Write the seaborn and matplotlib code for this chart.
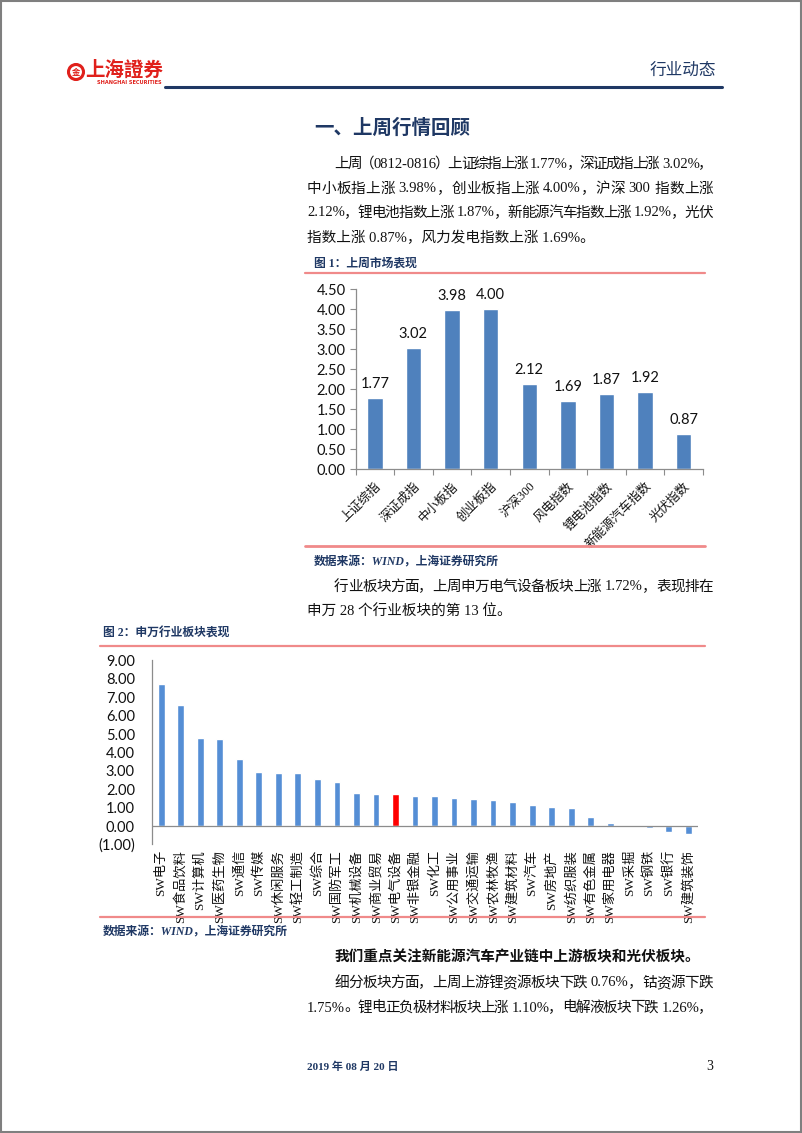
import re
import matplotlib
matplotlib.use("Agg")
import matplotlib.pyplot as plt
import seaborn as sns
import numpy as np
import pandas as pd
from matplotlib.patches import Rectangle, Ellipse
from matplotlib.lines import Line2D
from matplotlib.ticker import FuncFormatter, FixedLocator

# ---------------- data ----------------
idx_names = ["上证综指", "深证成指", "中小板指", "创业板指", "沪深300",
             "风电指数", "锂电池指数", "新能源汽车指数", "光伏指数"]
idx_values = [1.77, 3.02, 3.98, 4.00, 2.12, 1.69, 1.87, 1.92, 0.87]
idx_yticks = [0.0, 0.5, 1.0, 1.5, 2.0, 2.5, 3.0, 3.5, 4.0, 4.5]

sw_names = ["SW电子", "SW食品饮料", "SW计算机", "SW医药生物", "SW通信", "SW传媒",
            "SW休闲服务", "SW轻工制造", "SW综合", "SW国防军工", "SW机械设备",
            "SW商业贸易", "SW电气设备", "SW非银金融", "SW化工", "SW公用事业",
            "SW交通运输", "SW农林牧渔", "SW建筑材料", "SW汽车", "SW房地产",
            "SW纺织服装", "SW有色金属", "SW家用电器", "SW采掘", "SW钢铁",
            "SW银行", "SW建筑装饰"]
sw_values = [7.70, 6.59, 4.80, 4.73, 3.67, 2.96, 2.90, 2.87, 2.57, 2.41, 1.80,
             1.75, 1.72, 1.66, 1.62, 1.50, 1.49, 1.40, 1.30, 1.15, 1.06, 0.97,
             0.52, 0.15, 0.01, -0.12, -0.30, -0.45]
sw_highlight = "SW电气设备"
sw_yticks = [-1, 0, 1, 2, 3, 4, 5, 6, 7, 8, 9]

# ---------------- style ----------------
sns.set_theme(style="white")
SERIF = ["Liberation Serif", "Noto Sans CJK SC", "DejaVu Sans"]
SANS_CJK = ["Noto Sans CJK SC", "DejaVu Sans"]
NUM = ["Lato", "DejaVu Sans"]
plt.rcParams["font.family"] = SERIF

NAVY = "#1F3864"
RED_LINE = "#F08A8A"
BLUE1 = "#4F81BD"
BLUE2 = "#558ED5"
AXIS_GRAY = "#8C8C8C"

W, H = 802, 1133
fig = plt.figure(figsize=(W / 100, H / 100), dpi=100)
fig.patch.set_facecolor("white")


def fx(x):
    return x / W


def fy(y):
    return 1 - y / H


def txt(x, y, s, **kw):
    kw.setdefault("va", "center")
    return fig.text(fx(x), fy(y), s, **kw)


def hline(x0, x1, y, color, lw):
    fig.add_artist(Line2D([fx(x0), fx(x1)], [fy(y), fy(y)], color=color, lw=lw,
                          transform=fig.transFigure))


renderer = fig.canvas.get_renderer()
SPACE_PX = 4.0


def justify(x0, x1, y, s, **kw):
    toks = re.findall(r"[A-Za-z0-9.%\-]+| |\S", s)
    widths = []
    for t in toks:
        if t == " ":
            widths.append(SPACE_PX)
            continue
        tt = fig.text(0, 0, t, **kw)
        bb = tt.get_window_extent(renderer=renderer)
        widths.append(bb.width)
        tt.remove()
    real = [t for t in toks if t != " "]
    gap = (x1 - x0 - sum(widths)) / max(len(real) - 1, 1)
    x = x0
    for t, w in zip(toks, widths):
        if t == " ":
            x += w
            continue
        txt(x, y, t, ha="left", **kw)
        x += w + gap


# page border
fig.add_artist(Rectangle((0.001, 0.001), 0.998, 0.998, fill=False, ec="#7F7F7F",
                         lw=1.5, transform=fig.transFigure))

# ---------------- header ----------------
fig.add_artist(Ellipse((fx(76), fy(72)), 15 / W, 15 / H, fill=False, ec="#E0201B",
                       lw=2.2, transform=fig.transFigure))
txt(76, 72, "金", ha="center", color="#E0201B", fontsize=6, fontweight="bold",
    family=SANS_CJK)
txt(85, 70, "上海證券", ha="left", color="#E0201B", fontsize=14, fontweight="bold",
    family=SANS_CJK)
txt(97, 83, "SHANGHAI SECURITIES", ha="left", color="#E0201B", fontsize=3.6,
    fontweight="bold", family=["DejaVu Sans"])
txt(716, 70, "行业动态", ha="right", color=NAVY, fontsize=12, family=SANS_CJK)
hline(165, 722, 87, NAVY, 2.2)

# ---------------- section 1 text ----------------
txt(314, 128, "一、上周行情回顾", ha="left", color=NAVY, fontsize=14,
    fontweight="bold", family=SANS_CJK)
body = dict(fontsize=10.5, color="#111111", family=SERIF)
justify(334, 713, 164, "上周（0812-0816）上证综指上涨 1.77%，深证成指上涨 3.02%，", **body)
justify(307, 713, 189, "中小板指上涨 3.98%，创业板指上涨 4.00%，沪深 300 指数上涨", **body)
justify(307, 713, 213, "2.12%，锂电池指数上涨 1.87%，新能源汽车指数上涨 1.92%，光伏", **body)
txt(307, 238, "指数上涨 0.87%，风力发电指数上涨 1.69%。", ha="left", **body)

txt(314, 264, "图 1：上周市场表现", ha="left", color=NAVY, fontsize=8.5,
    fontweight="bold", family=SERIF)
hline(305, 705, 273, RED_LINE, 1.6)

# ---------------- chart 1 ----------------
ax1 = fig.add_axes([fx(355.5), fy(469), (703 - 355.5) / W, (469 - 289) / H])
df1 = pd.DataFrame({"name": idx_names, "value": idx_values})
sns.barplot(data=df1, x="name", y="value", color=BLUE1, width=0.4, saturation=1,
            ax=ax1)
ax1.set_ylim(0, 4.5)
ax1.set_xlim(-0.5, len(idx_names) - 0.5)
ax1.set_xlabel("")
ax1.set_ylabel("")
ax1.yaxis.set_major_locator(FixedLocator(idx_yticks))
ax1.yaxis.set_major_formatter(FuncFormatter(lambda v, p: f"{v:.2f}"))
for lab in ax1.get_yticklabels():
    lab.set_fontfamily(NUM)
    lab.set_fontsize(10.5)
    lab.set_color("#111111")
ax1.tick_params(axis="y", which="major", direction="out", length=4, width=0.8,
                color=AXIS_GRAY, pad=3, left=True)
ax1.set_xticks(range(len(idx_names)))
ax1.set_xticklabels(idx_names, rotation=45, ha="right", rotation_mode="anchor",
                    fontsize=9, family=SERIF, color="#111111")
ax1.tick_params(axis="x", which="major", length=0, pad=8)
ax1.set_xticks(np.arange(-0.5, len(idx_names), 1.0), minor=True)
ax1.tick_params(axis="x", which="minor", direction="out", length=4, width=0.8,
                color=AXIS_GRAY, bottom=True)
for s in ["top", "right"]:
    ax1.spines[s].set_visible(False)
for s in ["left", "bottom"]:
    ax1.spines[s].set_color(AXIS_GRAY)
    ax1.spines[s].set_linewidth(0.9)
ax1.grid(False)
ax1.set_facecolor("none")
for cont in ax1.containers:
    ax1.bar_label(cont, labels=[f"{v:.2f}" for v in idx_values], padding=5,
                  fontsize=10.5, family=NUM, color="#111111")

hline(305, 705, 546, RED_LINE, 2.0)
txt(314, 563, "数据来源：WIND，上海证券研究所", ha="left", color=NAVY, fontsize=8.5,
    fontweight="bold", style="italic", family=SERIF)
justify(334, 713, 587, "行业板块方面，上周申万电气设备板块上涨 1.72%，表现排在", **body)
txt(307, 612, "申万 28 个行业板块的第 13 位。", ha="left", **body)

# ---------------- chart 2 ----------------
txt(103, 634, "图 2：申万行业板块表现", ha="left", color=NAVY, fontsize=8.5,
    fontweight="bold", family=SERIF)
hline(100, 705, 646, RED_LINE, 1.6)

ax2 = fig.add_axes([fx(151.5), fy(844.5), (698 - 151.5) / W, (844.5 - 660.5) / H])
df2 = pd.DataFrame({"name": sw_names, "value": sw_values})
pal = {n: ("#FF0000" if n == sw_highlight else BLUE2) for n in sw_names}
sns.barplot(data=df2, x="name", y="value", hue="name", palette=pal, legend=False,
            width=0.35, saturation=1, ax=ax2)
ax2.set_ylim(-1, 9)
ax2.set_xlim(-0.5, len(sw_names) - 0.5)
ax2.set_xlabel("")
ax2.set_ylabel("")
ax2.yaxis.set_major_locator(FixedLocator(sw_yticks))
ax2.yaxis.set_major_formatter(
    FuncFormatter(lambda v, p: f"({abs(v):.2f})" if v < 0 else f"{v:.2f}"))
for lab in ax2.get_yticklabels():
    lab.set_fontfamily(NUM)
    lab.set_fontsize(10.5)
    lab.set_color("#111111")
ax2.tick_params(axis="y", which="major", length=0, pad=12, left=True)
ax2.set_xticks(range(len(sw_names)))
ax2.set_xticklabels(sw_names, rotation=90, ha="center", va="top", fontsize=9.5,
                    family=SERIF, color="#111111")
ax2.tick_params(axis="x", which="major", length=0, pad=4)
for s in ["top", "right", "bottom"]:
    ax2.spines[s].set_visible(False)
ax2.spines["left"].set_color(AXIS_GRAY)
ax2.spines["left"].set_linewidth(0.9)
ax2.axhline(0, color=AXIS_GRAY, lw=0.9, zorder=5)
ax2.grid(False)
ax2.set_facecolor("none")

hline(100, 705, 917, RED_LINE, 1.6)
txt(103, 933, "数据来源：WIND，上海证券研究所", ha="left", color=NAVY, fontsize=8.5,
    fontweight="bold", style="italic", family=SERIF)

# ---------------- closing text ----------------
txt(335, 957, "我们重点关注新能源汽车产业链中上游板块和光伏板块。", ha="left",
    fontsize=10.5, fontweight="bold", color="#111111", family=SERIF)
justify(334, 713, 983, "细分板块方面，上周上游锂资源板块下跌 0.76%，钴资源下跌", **body)
justify(307, 713, 1008, "1.75%。锂电正负极材料板块上涨 1.10%，电解液板块下跌 1.26%，", **body)

txt(307, 1067, "2019 年 08 月 20 日", ha="left", color=NAVY, fontsize=8,
    fontweight="bold", family=SERIF)
txt(713, 1067, "3", ha="right", color="#111111", fontsize=10, family=SERIF)

fig.savefig("out.png", dpi=100, facecolor="white")
